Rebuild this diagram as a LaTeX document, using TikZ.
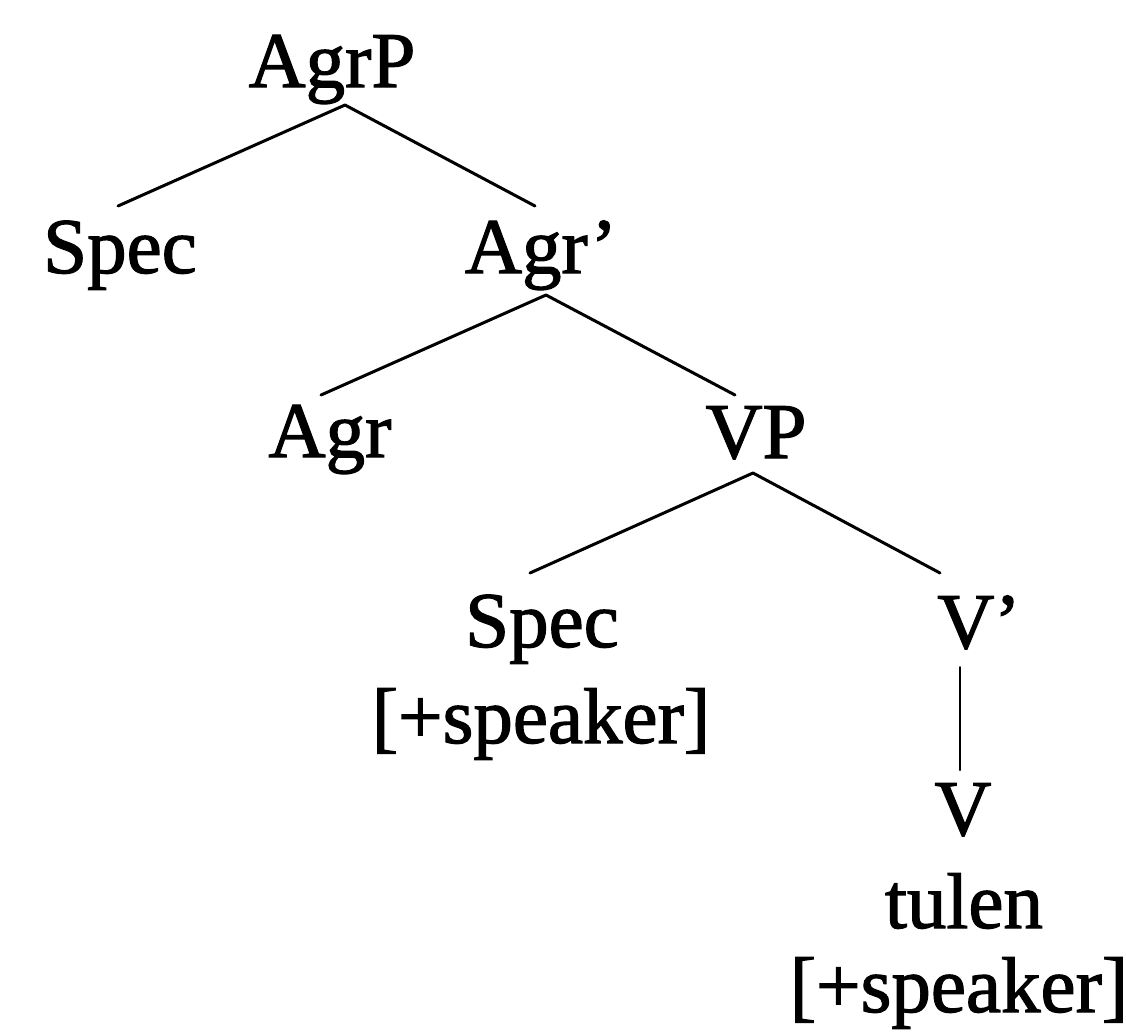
\documentclass[tikz,border=0pt]{standalone}
\usepackage{fontspec}
\setmainfont{Liberation Serif}[FakeBold=1.5]
\usetikzlibrary{calc}
\begin{document}
\begin{tikzpicture}[x=0.5pt,y=-0.5pt,
  lab/.style={anchor=base,inner sep=0pt,font=\fontsize{39.5}{44}\selectfont},
  branch/.style={line width=1.5pt,line cap=round},
  unary/.style={line width=1pt,line cap=round}]
\useasboundingbox (0,0) rectangle (1126,1034);
\node[lab] (agrp) at (332,87) {AgrP};
\node[lab] (spec1) at (120,273) {Spec};
\node[lab] (agrbar) at (541,273) {Agr’};
\node[lab] (agr) at (330,457) {Agr};
\node[lab] (vp) at (756,458) {VP};
\node[lab] (spec2) at (542,647) {Spec};
\node[lab] (feat1) at (541,743) {[+speaker]};
\node[lab] (vbar) at (979,648) {V’};
\node[lab] (v) at (963,835) {V};
\node[lab] (tulen) at (964,928) {tulen};
\node[lab] (feat2) at (959,1012) {[+speaker]};
\draw[branch] ($(agrp.base)+(13,18)$) -- ($(spec1.base)+(-2,-67)$);
\draw[branch] ($(agrp.base)+(13,18)$) -- ($(agrbar.base)+(-6,-67)$);
\draw[branch] ($(agrbar.base)+(5,22)$) -- ($(agr.base)+(-9,-62)$);
\draw[branch] ($(agrbar.base)+(5,22)$) -- ($(vp.base)+(-21,-63)$);
\draw[branch] ($(vp.base)+(-3,15)$) -- ($(spec2.base)+(-12,-74)$);
\draw[branch] ($(vp.base)+(-3,15)$) -- ($(vbar.base)+(-39,-75)$);
\draw[unary] ($(vbar.base)+(-19,19)$) -- ($(v.base)+(-3,-65)$);
\end{tikzpicture}
\end{document}
